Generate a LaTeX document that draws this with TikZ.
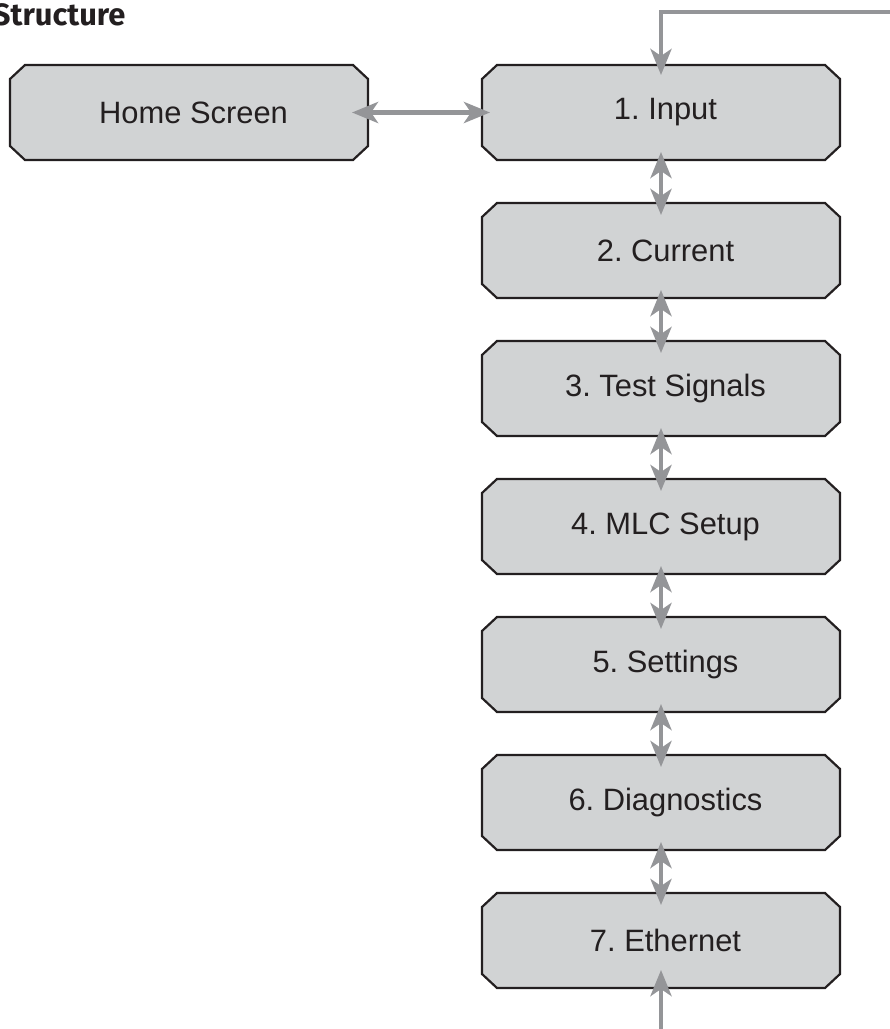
\documentclass[tikz,border=0pt]{standalone}
\usepackage{fontspec}
\setmainfont{Liberation Sans}
\newfontfamily\titlefont{Fira Sans}
\frenchspacing
\usetikzlibrary{arrows.meta,backgrounds}
\definecolor{boxfill}{RGB}{209,211,212}
\definecolor{boxline}{RGB}{35,31,32}
\definecolor{arrowgray}{RGB}{148,149,152}
\newcommand{\boxtext}[1]{\hspace*{9bp}#1}
\tikzset{
  menubox/.style={rectangle, draw=none, fill=none,
    minimum width=358bp, minimum height=95bp, inner sep=0pt, outer sep=0pt,
    font=\fontsize{31}{35}\selectfont, text=boxline},
  octline/.style={draw=boxline, line width=2.2bp, fill=boxfill, line join=miter},
  conn/.style={draw=arrowgray, line width=4.6bp,
    arrows={Stealth[length=26bp,width=21bp,inset=7bp]-Stealth[length=26bp,width=21bp,inset=7bp]}},
  oneway/.style={draw=arrowgray, line width=4.6bp,
    -{Stealth[length=26bp,width=21bp,inset=7bp]}}
}
\begin{document}
\begin{tikzpicture}[x=1bp,y=-1bp]
\useasboundingbox (0,0) rectangle (890,1029);
\node[anchor=base east, font=\titlefont\bfseries\fontsize{31}{34}\selectfont, text=boxline] (title) at (129,25) {Structure};
\node[menubox] (home) at (189,112.5) {\boxtext{Home Screen}};
\node[menubox] (b1) at (661,112.5) {\boxtext{1. Input}};
\node[menubox] (b2) at (661,250.5) {\boxtext{2. Current}};
\node[menubox] (b3) at (661,388.5) {\boxtext{3. Test Signals}};
\node[menubox] (b4) at (661,526.5) {\boxtext{4. MLC Setup}};
\node[menubox] (b5) at (661,664.5) {\boxtext{5. Settings}};
\node[menubox] (b6) at (661,802.5) {\boxtext{6. Diagnostics}};
\node[menubox] (b7) at (661,940.5) {\boxtext{7. Ethernet}};
\begin{scope}[on background layer]
\foreach \n in {home,b1,b2,b3,b4,b5,b6,b7}{
  \path[octline] ([xshift=15bp]\n.north west) -- ([xshift=-15bp]\n.north east)
    -- ([yshift=-14bp]\n.north east) -- ([yshift=14bp]\n.south east)
    -- ([xshift=-15bp]\n.south east) -- ([xshift=15bp]\n.south west)
    -- ([yshift=14bp]\n.south west) -- ([yshift=-14bp]\n.north west) -- cycle;
}
\end{scope}
\draw[conn, shorten <=-16bp, shorten >=-8bp] (home.east) -- (b1.west);
\foreach \a/\b in {b1/b2,b2/b3,b3/b4,b4/b5,b5/b6,b6/b7}{
  \draw[conn, shorten <=-8bp, shorten >=-12bp] (\a.south) -- (\b.north);
}
\coordinate (topin) at (895,12);
\coordinate (botin) at (661,1035);
\draw[oneway, shorten >=-10bp] (topin) -| (b1.north);
\draw[oneway, shorten >=-18bp] (botin) -- (b7.south);
\end{tikzpicture}
\end{document}
